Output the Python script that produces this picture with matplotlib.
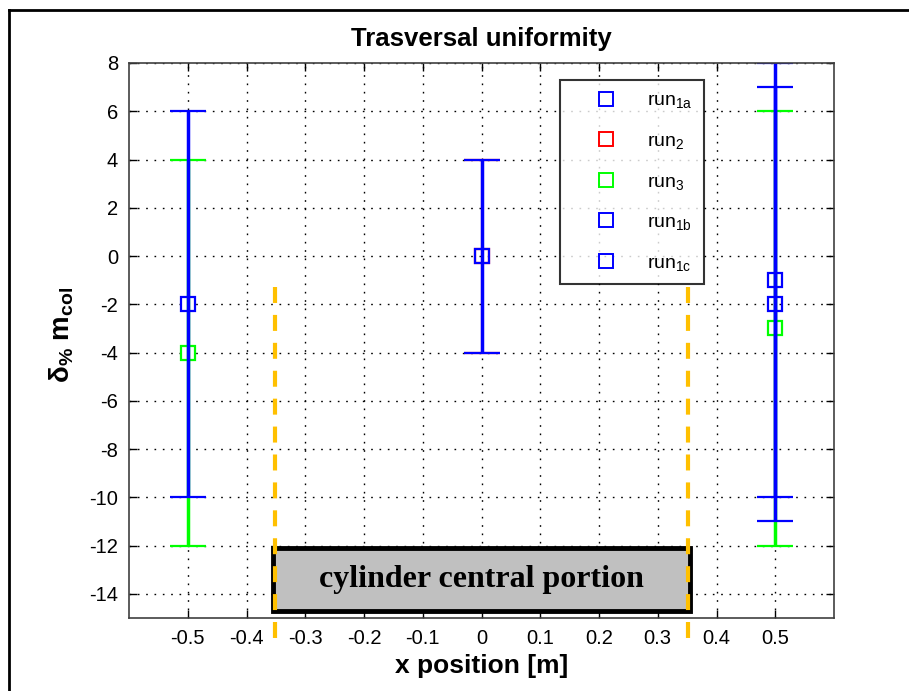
import numpy as np
import matplotlib
matplotlib.use("Agg")
import matplotlib.pyplot as plt
from matplotlib.lines import Line2D
from matplotlib.patches import Rectangle

plt.rcParams["font.family"] = ["Liberation Sans", "DejaVu Sans"]
plt.rcParams["mathtext.fontset"] = "custom"
plt.rcParams["mathtext.rm"] = "Liberation Sans"
plt.rcParams["mathtext.it"] = "Liberation Sans:italic"
plt.rcParams["mathtext.bf"] = "Liberation Sans:bold"
plt.rcParams["mathtext.default"] = "regular"
plt.rcParams["lines.scale_dashes"] = False
plt.rcParams["axes.unicode_minus"] = False

# ── Data ──
x_1a, y_1a, e_1a = [-0.5], [-2], [8]
x_2, y_2, e_2 = [0.0], [0], [4]
x_3, y_3, e_3 = [-0.5, 0.5], [-4, -3], [8, 9]
x_1b, y_1b, e_1b = [0.0, 0.5], [0, -2], [4, 9]
x_1c, y_1c, e_1c = [0.5], [-1], [9]

series = [
    ("run$_{1a}$", x_1a, y_1a, e_1a, "#0000FF", 4),
    ("run$_{2}$", x_2, y_2, e_2, "#FF0000", 2),
    ("run$_{3}$", x_3, y_3, e_3, "#00FF00", 3),
    ("run$_{1b}$", x_1b, y_1b, e_1b, "#0000FF", 5),
    ("run$_{1c}$", x_1c, y_1c, e_1c, "#0000FF", 6),
]

xticks = [-0.5, -0.4, -0.3, -0.2, -0.1, 0, 0.1, 0.2, 0.3, 0.4, 0.5]
xticklabels = ["-0.5", "-0.4", "-0.3", "-0.2", "-0.1", "0", "0.1", "0.2", "0.3", "0.4", "0.5"]
yticks = list(range(-14, 9, 2))

portion_x = 0.352
portion_label = "cylinder central portion"

fig = plt.figure(figsize=(9.09, 6.91), dpi=100)
ax = fig.add_axes([129 / 909, 73 / 691, 705 / 909, 555 / 691])

handles = []
for label, xs, ys, es, col, z in series:
    lw = 2.5 if col != "#FF0000" else 1.5
    ax.errorbar(xs, ys, yerr=es, fmt="s", color=col, mfc="none", mec=col,
                ms=10, mew=1.6, elinewidth=lw, capsize=13, capthick=lw, zorder=z)
    handles.append(Line2D([], [], ls="none", marker="s", mfc="none", mec=col, ms=10, mew=1.4))

# cylinder central portion box + dashed limits
ax.add_patch(Rectangle((-0.355, -14.72), 0.71, 2.62, facecolor="#C0C0C0",
                       edgecolor="k", lw=3.5, zorder=7))
ax.text(0, -13.42, portion_label, ha="center", va="center", fontsize=23,
        fontweight="bold", family="Liberation Serif", zorder=8)
for xv in (-portion_x, portion_x):
    ax.plot([xv, xv], [-1.3, -16], color="#FFC000", lw=3, dashes=(11.5, 8.6),
            clip_on=False, zorder=9)

ax.set_xlim(-0.6, 0.6)
ax.set_ylim(-15, 8)
ax.set_xticks(xticks)
ax.set_xticklabels(xticklabels)
ax.set_yticks(yticks)
ax.tick_params(direction="in", length=6, width=1, labelsize=14.5, top=True, right=True, pad=8)
ax.grid(True, color="k", linestyle=(0, (1.2, 4.8)), linewidth=1)
for s in ax.spines.values():
    s.set_color("#404040")
    s.set_linewidth(1.2)
    s.set_zorder(12)

ax.set_title("Trasversal uniformity", fontsize=18.5, fontweight="bold", pad=12)
ax.set_xlabel("x position [m]", fontsize=19, fontweight="bold", labelpad=4)
ax.set_ylabel(r"$\mathbf{\delta_{\%}\ m_{col}}$", fontsize=20)
ax.yaxis.set_label_coords(-0.075, 0.51)

leg = ax.legend(handles, [s[0] for s in series], loc="upper left",
                bbox_to_anchor=(0.611, 0.969), fontsize=14, frameon=True, fancybox=False,
                edgecolor="k", borderpad=0.6, handlelength=3.54, handletextpad=0.34,
                labelspacing=1.13, borderaxespad=0)
leg.get_frame().set_linewidth(1.5)
leg.set_zorder(10)

# outer figure frame (left and top)
fig.add_artist(Line2D([9 / 909, 9 / 909], [0, 1 - 10 / 691], transform=fig.transFigure, color="k", lw=2))
fig.add_artist(Line2D([9 / 909, 1], [1 - 10 / 691, 1 - 10 / 691], transform=fig.transFigure, color="k", lw=2))

fig.savefig("out.png", dpi=100, facecolor="white")
